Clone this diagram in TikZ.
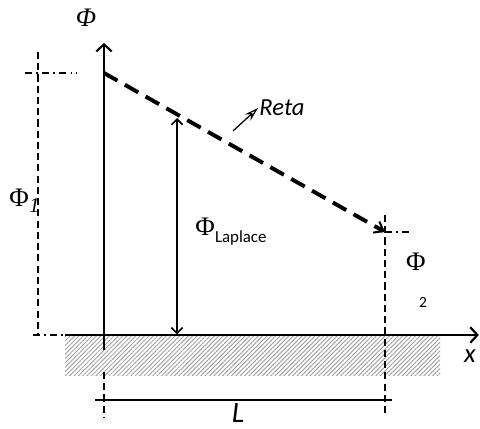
\documentclass[tikz,border=0pt]{standalone}
\usepackage{fontspec}
\setmainfont{Liberation Serif}
\newfontfamily\calfont{Carlito}
\usetikzlibrary{arrows.meta,patterns.meta}
\tikzset{
  axisline/.style={line width=1.6pt, -{Straight Barb[length=5pt,width=11pt,line width=1.5pt]}},
  guide/.style={line width=1pt, dash pattern=on 5pt off 3pt},
  guidedot/.style={line width=0.8pt, dash pattern=on 5pt off 3pt on 1.2pt off 3pt},
  reta/.style={line width=2.8pt, dash pattern=on 11pt off 6pt, -{Straight Barb[length=6pt,width=9pt,line width=1.4pt]}},
  ground/.style={pattern={Lines[angle=45,distance=2.2pt,line width=0.6pt]}, pattern color=black!40},
  measure/.style={line width=1.2pt},
  bigphi/.style={font=\fontsize{19}{19}\selectfont, inner sep=0pt},
  calabel/.style={font=\calfont\itshape\fontsize{17.5}{17.5}\selectfont, inner sep=0pt},
}

\begin{document}
\begin{tikzpicture}
\useasboundingbox (0,0) rectangle (12.0,10.700);
% ground
\fill[ground] (1.625,1.325) rectangle (11.000,2.325);
% points
\coordinate (O) at (2.600,2.325);
\coordinate (phitop) at (2.600,9.625);
\coordinate (phibot) at (2.600,1.950);
\coordinate (xstart) at (1.625,2.325);
\coordinate (xend) at (11.970,2.325);
\coordinate (A) at (2.600,8.875);
\coordinate (B) at (9.625,4.900);
% axes
\draw[axisline] (phibot) -- (phitop);
\draw[axisline] (xstart) -- (xend);
% straight line between the two heads
\draw[reta] (A) -- (B);
% left guides
\coordinate (g1top) at (0.950,9.400);
\coordinate (g1bot) at (0.950,2.325);
\draw[guide] (g1top) -- (g1bot);
\coordinate (h1a) at (0.625,8.875);
\coordinate (h1b) at (1.925,8.875);
\draw[guidedot] (h1a) -- (h1b);
\coordinate (h0a) at (0.825,2.325);
\draw[guidedot] (h0a) -- (xstart);
% right guides
\coordinate (g2top) at (9.625,5.325);
\coordinate (g2bot) at (9.625,0.375);
\draw[guide] (g2top) -- (g2bot);
\coordinate (h2b) at (10.300,4.900);
\draw[guidedot] (B) -- (h2b);
% lower end of the axis
\coordinate (g0top) at (2.600,1.400);
\coordinate (g0bot) at (2.600,0.250);
\draw[guide] (g0top) -- (g0bot);
% length L
\coordinate (La) at (2.375,0.700);
\coordinate (Lb) at (9.800,0.700);
\draw[measure] (La) -- (Lb);
% Laplace head
\coordinate (lapT) at (4.425,7.750);
\coordinate (lapB) at (4.425,2.340);
\draw[line width=1.3pt, {Straight Barb[length=4pt,width=8pt,line width=1.2pt]}-{Straight Barb[length=4pt,width=8pt,line width=1.2pt]}] (lapT) -- (lapB);
% pointer to the line
\coordinate (retaS) at (5.825,7.425);
\coordinate (retaE) at (6.450,8.000);
\draw[line width=0.9pt, -{Stealth[open,length=10pt,width=6pt,line width=0.9pt]}] (retaS) -- (retaE);
% labels
\node[bigphi, font=\itshape\fontsize{19}{19}\selectfont] (phi) at (2.150,10.250) {Φ};
\node[bigphi, anchor=west] (phi1) at (0.230,5.680) {Φ\textsubscript{\fontsize{15}{15}\selectfont\itshape 1}};
\node[bigphi] (phi2) at (10.400,4.150) {Φ};
\node[font=\calfont\fontsize{11}{11}\selectfont, inner sep=0pt] (sub2) at (10.575,3.150) {2};
\node[bigphi, anchor=base west] (philap) at (4.880,4.800) {Φ\raisebox{-0.25em}{\calfont\fontsize{12}{12}\selectfont Laplace}};
\node[calabel, anchor=west] (reta) at (6.480,8.020) {Reta};
\node[calabel, font=\calfont\itshape\fontsize{19}{19}\selectfont] (xlab) at (11.750,1.800) {x};
\node[calabel, font=\calfont\itshape\fontsize{21}{21}\selectfont] (Llab) at (5.950,0.380) {L};
\end{tikzpicture}
\end{document}
